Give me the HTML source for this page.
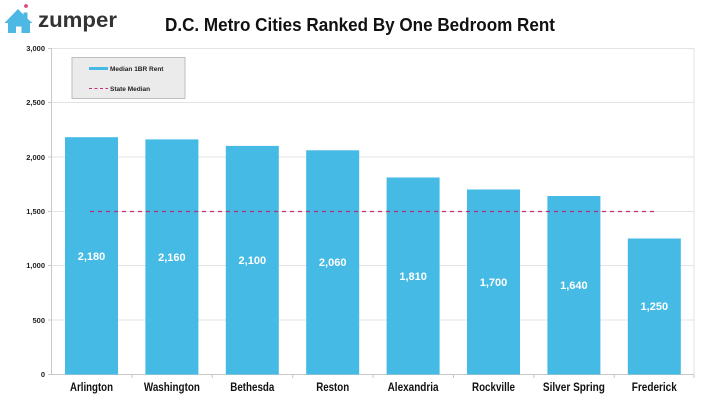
<!DOCTYPE html>
<html><head><meta charset="utf-8"><style>
html,body{margin:0;padding:0;background:#fff;}
svg{display:block;font-family:"Liberation Sans",Arial,sans-serif;}
</style></head><body>
<svg width="720" height="405" viewBox="0 0 720 405" xmlns="http://www.w3.org/2000/svg">
<rect width="720" height="405" fill="#fff"/>
<!-- logo -->
<g fill="#4db8e3">
<polygon points="4.5,23 18,9 23.5,14.7 23.5,12.5 27.5,12.5 27.5,18.8 32.5,23 30,23 30,33 21.5,33 21.5,26.5 16,26.5 16,33 8,33 8,23"/>
</g>
<circle cx="26" cy="6" r="1.9" fill="#e0457b"/>
<text x="38" y="27" font-size="21" font-weight="bold" fill="#333" textLength="79" lengthAdjust="spacingAndGlyphs">zumper</text>
<!-- title -->
<text x="165" y="31" font-size="18.5" font-weight="bold" fill="#111" textLength="390" lengthAdjust="spacingAndGlyphs">D.C. Metro Cities Ranked By One Bedroom Rent</text>
<!-- grid -->
<g stroke="#e3e3e3" stroke-width="1">
<line x1="51" y1="48.5" x2="694" y2="48.5"/>
<line x1="51" y1="102.5" x2="694" y2="102.5"/>
<line x1="51" y1="157" x2="694" y2="157"/>
<line x1="51" y1="211.5" x2="694" y2="211.5"/>
<line x1="51" y1="265.5" x2="694" y2="265.5"/>
<line x1="51" y1="320" x2="694" y2="320"/>
<line x1="694" y1="48" x2="694" y2="374.5"/>
</g>
<g stroke="#c8c8c8" stroke-width="1">
<line x1="51.5" y1="48" x2="51.5" y2="375"/>
<line x1="48" y1="374.5" x2="694" y2="374.5"/>
<line x1="48" y1="48.5" x2="51" y2="48.5"/>
<line x1="48" y1="102.5" x2="51" y2="102.5"/>
<line x1="48" y1="157" x2="51" y2="157"/>
<line x1="48" y1="211.5" x2="51" y2="211.5"/>
<line x1="48" y1="265.5" x2="51" y2="265.5"/>
<line x1="48" y1="320" x2="51" y2="320"/>
<line x1="131.9" y1="374.5" x2="131.9" y2="378"/>
<line x1="212.3" y1="374.5" x2="212.3" y2="378"/>
<line x1="292.7" y1="374.5" x2="292.7" y2="378"/>
<line x1="373.1" y1="374.5" x2="373.1" y2="378"/>
<line x1="453.5" y1="374.5" x2="453.5" y2="378"/>
<line x1="533.9" y1="374.5" x2="533.9" y2="378"/>
<line x1="614.3" y1="374.5" x2="614.3" y2="378"/>
<line x1="694" y1="374.5" x2="694" y2="378"/>
</g>
<!-- y labels -->
<g font-size="7.5" font-weight="bold" fill="#222" text-anchor="end">
<text x="45" y="51">3,000</text>
<text x="45" y="105">2,500</text>
<text x="45" y="160">2,000</text>
<text x="45" y="214">1,500</text>
<text x="45" y="268">1,000</text>
<text x="45" y="323">500</text>
<text x="45" y="377">0</text>
</g>
<!-- bars -->
<g fill="#44bae4">
<rect x="65" y="137.2" width="53" height="237.3"/>
<rect x="145.4" y="139.4" width="53" height="235.1"/>
<rect x="225.8" y="145.9" width="53" height="228.6"/>
<rect x="306.2" y="150.3" width="53" height="224.2"/>
<rect x="386.6" y="177.5" width="53" height="197"/>
<rect x="467" y="189.5" width="53" height="185"/>
<rect x="547.4" y="196" width="53" height="178.5"/>
<rect x="627.8" y="238.5" width="53" height="136"/>
</g>
<!-- value labels -->
<g font-size="11" font-weight="bold" fill="#fff" text-anchor="middle">
<text x="91.5" y="260">2,180</text>
<text x="171.9" y="261">2,160</text>
<text x="252.3" y="264">2,100</text>
<text x="332.7" y="266">2,060</text>
<text x="413.1" y="280">1,810</text>
<text x="493.5" y="286">1,700</text>
<text x="573.9" y="289">1,640</text>
<text x="654.3" y="310">1,250</text>
</g>
<!-- state median -->
<line x1="90" y1="211.5" x2="656" y2="211.5" stroke="#b8307a" stroke-width="1.2" stroke-dasharray="4,4"/>
<!-- x labels -->
<g font-size="11.5" font-weight="bold" fill="#111" text-anchor="middle" lengthAdjust="spacingAndGlyphs">
<text x="91.5" y="391" textLength="43" lengthAdjust="spacingAndGlyphs">Arlington</text>
<text x="171.9" y="391" textLength="56" lengthAdjust="spacingAndGlyphs">Washington</text>
<text x="252.3" y="391" textLength="44" lengthAdjust="spacingAndGlyphs">Bethesda</text>
<text x="332.7" y="391" textLength="33" lengthAdjust="spacingAndGlyphs">Reston</text>
<text x="413.1" y="391" textLength="51" lengthAdjust="spacingAndGlyphs">Alexandria</text>
<text x="493.5" y="391" textLength="43" lengthAdjust="spacingAndGlyphs">Rockville</text>
<text x="573.9" y="391" textLength="62" lengthAdjust="spacingAndGlyphs">Silver Spring</text>
<text x="654.3" y="391" textLength="45" lengthAdjust="spacingAndGlyphs">Frederick</text>
</g>
<!-- legend -->
<rect x="72" y="57.5" width="113" height="41" fill="#ebebeb" stroke="#bdbdbd" stroke-width="1"/>
<rect x="89" y="67" width="19" height="3" fill="#44bae4"/>
<text x="110" y="71" font-size="6.5" font-weight="bold" fill="#222">Median 1BR Rent</text>
<line x1="89" y1="88.5" x2="108" y2="88.5" stroke="#c0307a" stroke-width="1" stroke-dasharray="3,2.5"/>
<text x="110" y="91" font-size="6.5" font-weight="bold" fill="#222">State Median</text>
</svg>
</body></html>
